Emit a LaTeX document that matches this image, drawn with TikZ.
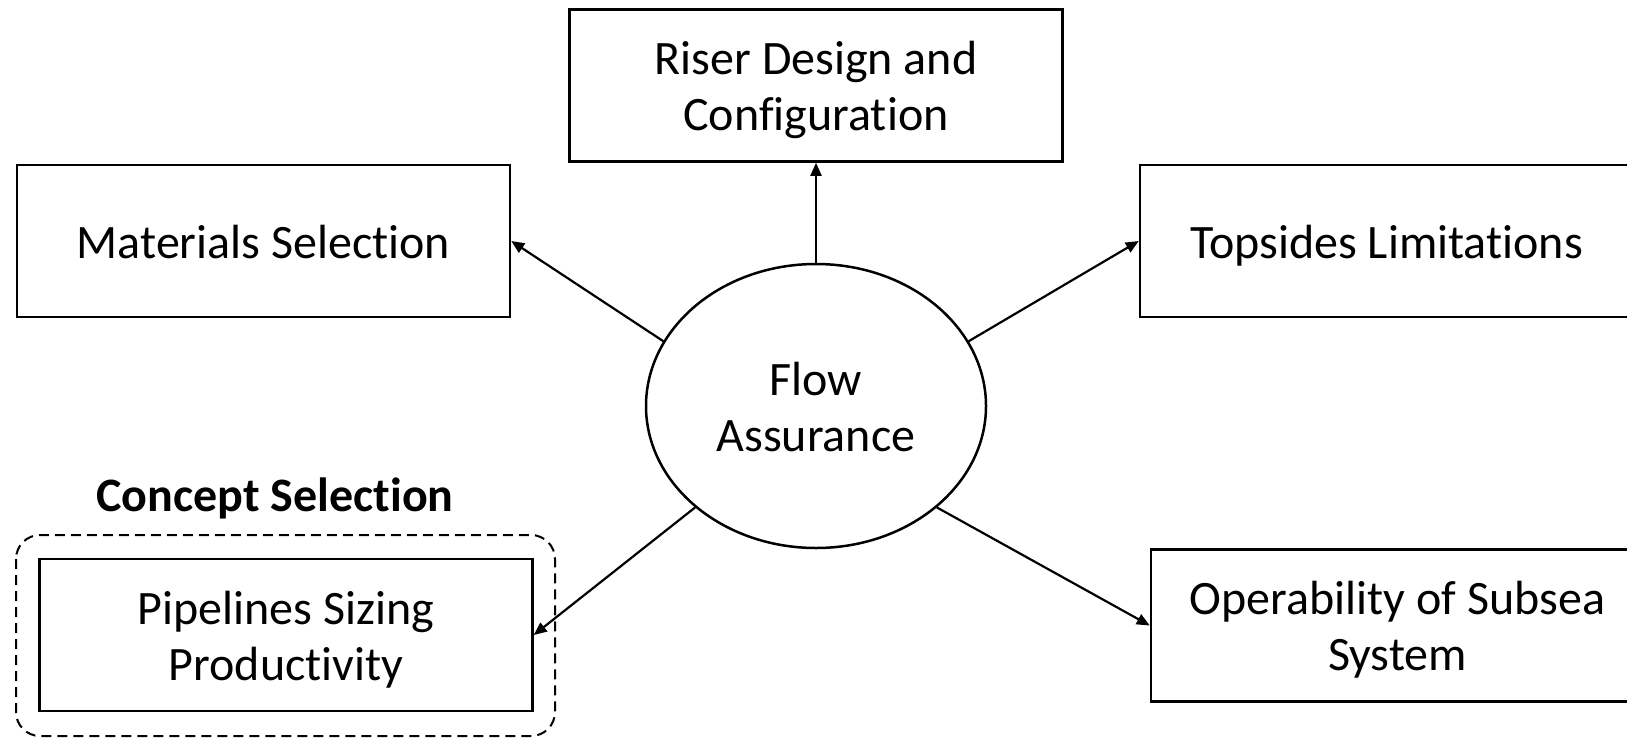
\documentclass[tikz,border=0pt]{standalone}
\usepackage{fontspec}
\setmainfont{Carlito}[Ligatures={NoCommon,NoContextual},Contextuals={NoAlternate}]
\usetikzlibrary{arrows.meta,shapes.geometric}
\tikzset{
  box/.style={draw=black, line width=2.5pt, minimum width=493pt, minimum height=152pt,
    inner sep=0pt, align=center, font=\fontsize{48}{56}\selectfont},
  hub/.style={draw=black, line width=2.5pt, ellipse, minimum width=340pt, minimum height=284pt,
    inner sep=0pt, align=center, font=\fontsize{48}{56}\selectfont},
  oneline/.style={text height=36pt, text depth=2pt},
  twoline/.style={text height=92pt, text depth=1.6pt},
  link/.style={line width=2.2pt, -{Triangle[length=13pt,width=11pt]}},
  group/.style={draw=black, line width=2pt, dash pattern=on 10pt off 6pt, rounded corners=24pt}
}
\begin{document}
\begin{tikzpicture}[x=1pt,y=-1pt]
\useasboundingbox (0,0) rectangle (1627,737);
\clip (0,0) rectangle (1627,737);
\fill[white] (0,0) rectangle (1627,737);
\node[hub, twoline] (fa) at (816,406) {Flow\\Assurance};
\node[box, twoline] (riser) at (816,85.5) {Riser Design and\\Configuration};
\node[box, oneline] (mat) at (263.5,241) {Materials Selection};
\node[box, oneline] (top) at (1386.5,241) {Topsides Limitations};
\node[box, twoline] (pipe) at (286,635) {Pipelines Sizing\\Productivity};
\node[box, twoline] (oper) at (1397.5,625.5) {Operability of Subsea\\System};
\draw[group] (16,535) rectangle (555,736);
\node[font=\fontsize{48}{57}\selectfont\bfseries] (cs) at (275,498) {Concept Selection};
\draw[link] (fa.north) -- (riser.south);
\draw[link] (fa.157) -- (mat.east);
\draw[link] (fa.23) -- (top.west);
\draw[link] (fa.220) -- (pipe.east);
\draw[link] (fa.320) -- (oper.west);
\end{tikzpicture}
\end{document}
